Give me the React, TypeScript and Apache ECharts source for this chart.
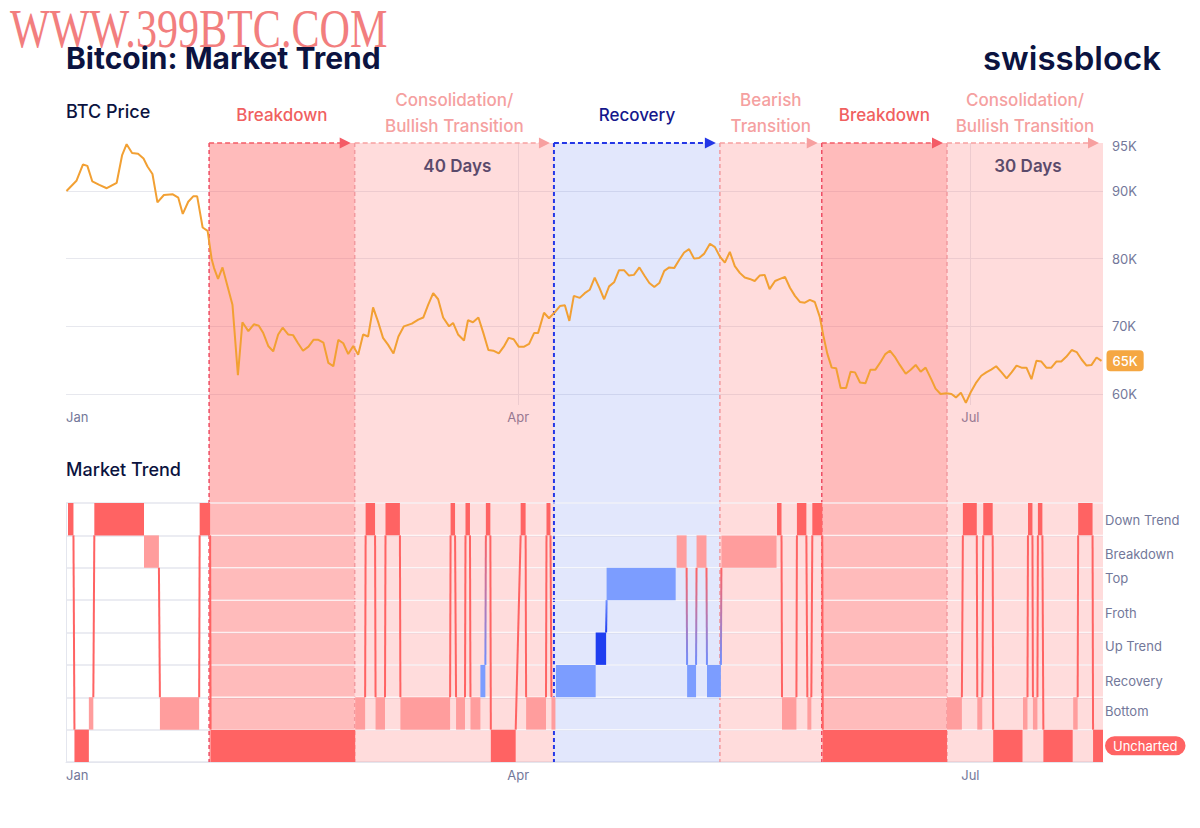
import React, { useEffect, useRef } from "react";
import * as echarts from "echarts";

// ---------- axis ticks ----------
const monthTickDays = [0, 91, 182];
const monthTickLabels = ["Jan", "Apr", "Jul"];
const priceGridDays = [91, 182];
const priceAxisK = [60, 70, 80, 90, 95];
const priceGridK = [60, 70, 80, 90];

// ---------- BTC price (day of year, price in K USD) ----------
const priceDays = [
  0.1, 2.1, 3.4, 4.3, 5.3, 6.7, 8.2, 10.2, 11.3, 12.2, 13.3, 14.5, 15.6, 16.4, 17.4, 18.4, 19.7, 21.5, 22.6, 23.5,
  24.6, 25.6, 26.4, 27.5, 28.5, 29.3, 29.8, 30.6, 31.5, 33.5, 34.6, 35.5, 36.7, 37.8, 38.8, 39.7, 40.7, 41.7, 42.7, 43.6,
  44.7, 45.7, 46.7, 47.7, 48.8, 49.8, 50.8, 51.8, 52.8, 53.8, 54.8, 55.8, 56.8, 57.8, 58.8, 59.8, 60.8, 61.8, 62.8, 63.8,
  64.8, 65.9, 66.9, 68.0, 69.6, 70.9, 71.9, 72.9, 73.9, 74.9, 75.9, 77.1, 77.9, 78.9, 80.1, 80.9, 81.9, 83.0, 84.0, 85.0,
  86.0, 87.1, 88.1, 89.1, 90.1, 91.1, 92.2, 93.2, 94.2, 95.0, 96.2, 97.2, 98.4, 99.4, 100.4, 101.3, 102.2, 103.4, 104.4, 105.4,
  106.4, 107.4, 108.3, 109.3, 110.3, 111.3, 112.3, 113.3, 114.3, 115.4, 116.4, 117.4, 118.4, 119.4, 120.4, 121.4, 122.4, 123.4, 124.4, 125.4,
  126.4, 127.4, 128.4, 129.6, 130.6, 131.6, 132.6, 133.6, 134.6, 135.6, 136.6, 137.6, 138.6, 139.6, 140.6, 141.6, 142.7, 143.7, 144.7, 145.7,
  146.7, 147.7, 148.7, 149.7, 150.7, 151.7, 152.4, 153.2, 154.1, 155.0, 155.9, 157.0, 157.9, 158.8, 159.8, 160.9, 161.9, 162.9, 164.0, 164.9,
  165.8, 166.8, 167.8, 169.0, 170.0, 171.0, 172.0, 173.0, 174.2, 175.0, 176.0, 177.2, 178.2, 179.1, 180.1, 181.1, 182.1, 183.1, 184.2, 185.2,
  186.2, 187.2, 188.3, 189.3, 190.3, 191.3, 192.3, 193.3, 194.3, 195.3, 196.3, 197.3, 198.3, 199.3, 200.3, 201.3, 202.4, 203.4, 204.4, 205.4,
  206.4, 207.4, 208.4,
];
const priceK = [
  90.0, 91.5, 93.9, 93.7, 91.4, 90.9, 90.4, 91.2, 95.3, 96.9, 95.6, 95.5, 94.8, 93.6, 92.5, 88.3, 89.4, 89.5, 89.0, 86.6,
  88.4, 89.2, 89.2, 84.6, 84.1, 80.0, 78.6, 77.0, 78.7, 73.2, 62.8, 70.6, 69.3, 70.3, 70.1, 69.0, 67.1, 66.3, 68.8, 69.8,
  68.8, 68.7, 67.5, 66.4, 67.0, 68.0, 68.0, 67.6, 64.6, 64.1, 68.0, 67.5, 65.9, 67.1, 65.8, 68.8, 68.5, 72.8, 70.7, 68.3,
  67.3, 66.0, 68.5, 70.0, 70.4, 71.0, 71.3, 73.2, 74.9, 74.0, 71.3, 70.0, 70.5, 68.8, 67.9, 70.9, 70.6, 71.3, 69.0, 66.5,
  66.4, 66.0, 67.0, 68.3, 68.1, 67.0, 67.0, 67.4, 69.0, 69.0, 72.0, 71.2, 72.1, 73.0, 73.1, 70.8, 74.5, 74.2, 74.9, 75.4,
  77.2, 75.6, 74.0, 75.9, 76.5, 78.3, 78.3, 77.5, 77.6, 78.7, 77.5, 76.4, 75.8, 76.4, 78.2, 78.7, 78.6, 79.8, 80.9, 81.4,
  80.0, 80.1, 80.7, 82.2, 81.7, 80.3, 79.4, 81.0, 78.9, 77.9, 77.2, 77.0, 76.7, 77.5, 77.6, 75.5, 76.7, 77.0, 77.3, 75.7,
  74.5, 73.6, 73.5, 73.9, 73.6, 71.4, 68.7, 66.0, 63.9, 63.8, 60.9, 60.9, 63.3, 63.2, 61.7, 61.6, 63.6, 63.6, 64.8, 65.9,
  66.4, 65.5, 64.3, 63.0, 63.6, 64.3, 63.3, 63.9, 62.1, 60.8, 60.0, 60.1, 60.0, 59.5, 60.2, 58.7, 60.3, 61.6, 62.7, 63.2,
  63.6, 64.1, 63.2, 62.3, 63.2, 64.2, 63.9, 63.9, 62.2, 64.9, 64.8, 63.9, 63.9, 64.8, 64.8, 65.5, 66.5, 66.2, 65.1, 64.2,
  64.3, 65.4, 64.9,
];

// ---------- Market trend states (bottom to top) ----------
const trendStates = ["Uncharted", "Bottom", "Recovery", "Up Trend", "Froth", "Top", "Breakdown", "Down Trend"];
const runStart = [
  0.4, 1.7, 4.6, 5.7, 15.7, 18.9, 26.9, 29.1, 58.2, 60.3, 62.3, 64.3, 67.3, 77.4, 78.5, 80.4, 81.4, 83.4, 84.5, 85.5,
  91.5, 92.6, 96.7, 97.7, 98.6, 106.6, 108.8, 122.9, 125.0, 126.9, 129.0, 131.9, 143.1, 144.1, 147.1, 149.2, 150.2, 152.3, 177.3, 180.5,
  183.4, 184.6, 186.6, 192.6, 193.6, 194.6, 195.6, 196.7, 202.7, 203.7, 206.7,
];
const runEnd = [
  1.5, 4.6, 5.5, 15.7, 18.7, 26.8, 29.0, 58.2, 60.2, 62.2, 64.2, 67.2, 77.3, 78.3, 80.3, 81.3, 83.4, 84.4, 85.4, 90.5,
  92.5, 96.6, 97.5, 98.5, 106.6, 108.7, 122.7, 124.9, 126.8, 128.9, 131.8, 143.0, 144.0, 147.0, 149.0, 150.0, 152.2, 177.3, 180.3, 183.3,
  184.4, 186.5, 192.5, 193.5, 194.5, 195.5, 196.5, 202.6, 203.6, 206.6, 208.7,
];
const runState = [
  "Down Trend", "Uncharted", "Bottom", "Down Trend", "Breakdown", "Bottom", "Down Trend", "Uncharted", "Bottom", "Down Trend",
  "Bottom", "Down Trend", "Bottom", "Down Trend", "Bottom", "Down Trend", "Bottom", "Recovery", "Down Trend", "Uncharted",
  "Down Trend", "Bottom", "Down Trend", "Bottom", "Recovery", "Up Trend", "Top", "Breakdown", "Recovery", "Breakdown",
  "Recovery", "Breakdown", "Down Trend", "Bottom", "Down Trend", "Bottom", "Down Trend", "Uncharted", "Bottom", "Down Trend",
  "Bottom", "Down Trend", "Uncharted", "Bottom", "Down Trend", "Bottom", "Down Trend", "Uncharted", "Bottom", "Down Trend",
  "Uncharted",
];

// ---------- Regimes ----------
const regimeNames = [
  "Breakdown",
  "Consolidation/\nBullish Transition",
  "Recovery",
  "Bearish\nTransition",
  "Breakdown",
  "Consolidation/\nBullish Transition",
];
const regimeKinds = ["breakdown", "transition", "recovery", "transition", "breakdown", "transition"];
const regimeStart = [28.8, 58.1, 98.2, 131.6, 152.1, 177.3];
const regimeEnd = [58.1, 98.2, 131.6, 152.1, 177.3, 208.7];
const regimeNotes = ["", "40 Days", "", "", "", "30 Days"];

// ---------- styles ----------
const X_MAX = 208.7;
const FONT = "Inter, 'Noto Sans', sans-serif";
const NAVY = "#0B1340";
const AXIS_TXT = "#73789A";
const GRID_LINE = "#E7E8EE";

const KIND_STYLE: Record<string, any> = {
  breakdown: { shade: "rgba(255,90,90,0.41)", label: "#F0605F", arrow: "#F45B66", vline: "#EE4D63", vw: 1.5 },
  transition: { shade: "rgba(255,120,120,0.26)", label: "#F5A0A0", arrow: "#F7A0A0", vline: "#F29A9F", vw: 1.5 },
  recovery: { shade: "rgba(100,130,240,0.19)", label: "#15188C", arrow: "#2437E6", vline: "#2437E6", vw: 2 },
};

const STATE_FILL: Record<string, string> = {
  "Down Trend": "#FF6363",
  Breakdown: "#FF9D9D",
  Top: "#7C9DFF",
  Froth: "#5A7CFF",
  "Up Trend": "#1F3EF0",
  Recovery: "#7C9DFF",
  Bottom: "#FF9D9D",
  Uncharted: "#FF6363",
};
const STATE_LINE: Record<string, string> = {
  "Down Trend": "#FF6363",
  Breakdown: "#FF6363",
  Top: "#6F8EFF",
  Froth: "#6F8EFF",
  "Up Trend": "#1F3EF0",
  Recovery: "#6F8EFF",
  Bottom: "#FF6363",
  Uncharted: "#FF6363",
};
// vertical fine-tuning of the state labels (px, negative = up)
const LABEL_SHIFT: Record<string, number> = {
  "Down Trend": 1,
  Breakdown: 2,
  Top: -6,
  Froth: -3,
  "Up Trend": -3,
  Recovery: 0,
  Bottom: -2,
  Uncharted: 1,
};

function buildOption() {
  const pricePairs = priceDays.map((d, i) => [d, priceK[i] * 1000]);
  const stateIdx = (s: string) => trendStates.indexOf(s);
  const runData = runStart.map((s, i) => [
    s,
    runEnd[i],
    stateIdx(runState[i]),
    i + 1 < runStart.length ? runStart[i + 1] : -1,
    i + 1 < runStart.length ? stateIdx(runState[i + 1]) : -1,
  ]);
  const regimeData = regimeStart.map((s, i) => [s, regimeEnd[i], i]);
  const currentState = runState[runState.length - 1];
  const boundaries = [1, 2, 3, 4, 5, 6, 7, 8].map((b) => [b]);

  const stateRich: any = {
    cur: {
      backgroundColor: STATE_FILL[currentState],
      color: "#fff",
      borderRadius: 10,
      padding: [3, 8, 3, 8],
      fontSize: 13,
      fontFamily: FONT,
    },
  };
  trendStates.forEach((s, i) => {
    const sh = LABEL_SHIFT[s] || 0;
    stateRich["s" + i] = {
      color: AXIS_TXT,
      fontSize: 13,
      fontFamily: FONT,
      padding: sh < 0 ? [0, 0, -2 * sh, 0] : [2 * sh, 0, 0, 0],
    };
  });

  const monthAxisLabel = {
    customValues: monthTickDays,
    formatter: (v: number) => monthTickLabels[monthTickDays.indexOf(Math.round(v))] || "",
    color: AXIS_TXT,
    fontSize: 13,
    fontFamily: FONT,
    alignMinLabel: "left",
  };

  return {
    animation: false,
    backgroundColor: "#ffffff",
    textStyle: { fontFamily: FONT },
    grid: [
      { left: 66, right: 97, top: 143, height: 262 },
      { left: 66, right: 97, top: 503, height: 259 },
      { left: 66, right: 97, top: 143, height: 619 },
    ],
    xAxis: [
      {
        type: "value",
        gridIndex: 0,
        min: 0,
        max: X_MAX,
        axisLine: { show: false },
        axisTick: { show: false, customValues: priceGridDays },
        splitLine: { show: true, lineStyle: { color: GRID_LINE, width: 1 } },
        axisLabel: { ...monthAxisLabel, margin: 5 },
      },
      {
        type: "value",
        gridIndex: 1,
        min: 0,
        max: X_MAX,
        axisLine: { show: true, lineStyle: { color: "#E4E6EE", width: 1 } },
        axisTick: { show: false, customValues: [0] },
        splitLine: { show: true, lineStyle: { color: "#E4E6EE", width: 1 } },
        axisLabel: { ...monthAxisLabel, margin: 6 },
      },
      { type: "value", gridIndex: 2, min: 0, max: X_MAX, show: false },
    ],
    yAxis: [
      {
        type: "value",
        gridIndex: 0,
        position: "right",
        min: 58380,
        max: 97080,
        axisLine: { show: false },
        axisTick: { show: false, customValues: priceGridK.map((k) => k * 1000) },
        splitLine: { show: true, lineStyle: { color: GRID_LINE, width: 1 } },
        axisLabel: {
          customValues: priceAxisK.map((k) => k * 1000),
          margin: 9,
          color: AXIS_TXT,
          fontSize: 13,
          fontFamily: FONT,
          formatter: (v: number) => {
            const t = Math.round(v / 1000) + "K";
            return v === 95000 ? "{t|" + t + "}" : t;
          },
          rich: { t: { color: AXIS_TXT, fontSize: 13, fontFamily: FONT, padding: [0, 0, 22, 0] } },
        },
      },
      {
        type: "value",
        gridIndex: 1,
        position: "right",
        min: 0,
        max: 8,
        axisLine: { show: false },
        axisTick: { show: false, customValues: [0, 1, 2, 3, 4, 5, 6, 7, 8] },
        splitLine: { show: true, lineStyle: { color: "#E4E6EE", width: 1.5 } },
        axisLabel: {
          customValues: trendStates.map((_, i) => i + 0.5),
          margin: 2,
          formatter: (v: number) => {
            const i = Math.floor(v);
            const name = trendStates[i];
            return name === currentState ? "{cur|" + name + "}" : "{s" + i + "|" + name + "}";
          },
          rich: stateRich,
        },
      },
      { type: "value", gridIndex: 2, min: 0, max: 1, show: false },
    ],
    series: [
      // regime shading, boundaries, arrows and labels
      {
        type: "custom",
        name: "regimes",
        xAxisIndex: 2,
        yAxisIndex: 2,
        z: 1,
        silent: true,
        data: regimeData,
        encode: { x: [0, 1], y: 2 },
        renderItem: (params: any, api: any) => {
          const i = api.value(2);
          const s = api.value(0);
          const e = api.value(1);
          const p0 = api.coord([s, 1]);
          const p1 = api.coord([e, 0]);
          const st = KIND_STYLE[regimeKinds[i]];
          const cx = (p0[0] + p1[0]) / 2;
          const top = p0[1];
          const twoLine = regimeNames[i].indexOf("\n") >= 0;
          const children: any[] = [
            {
              type: "rect",
              shape: { x: p0[0], y: top, width: p1[0] - p0[0], height: p1[1] - top },
              style: { fill: st.shade },
            },
            {
              type: "line",
              shape: { x1: p0[0], y1: top, x2: p0[0], y2: p1[1] },
              style: { stroke: st.vline, lineWidth: st.vw, lineDash: [4, 3] },
            },
            {
              type: "line",
              shape: { x1: p0[0], y1: top, x2: p1[0] - 12, y2: top },
              style: { stroke: st.arrow, lineWidth: regimeKinds[i] === "recovery" ? 2 : 1.6, lineDash: [5, 3] },
            },
            {
              type: "polygon",
              shape: {
                points: [
                  [p1[0] - 15, top - 5.5],
                  [p1[0] - 4, top],
                  [p1[0] - 15, top + 5.5],
                ],
              },
              style: { fill: st.arrow },
            },
            {
              type: "text",
              x: cx,
              y: twoLine ? top - 30 : top - 28,
              style: {
                text: regimeNames[i],
                fill: st.label,
                fontSize: 17,
                fontWeight: 500,
                fontFamily: FONT,
                align: "center",
                verticalAlign: "middle",
                lineHeight: 26,
              },
            },
          ];
          if (regimeNotes[i]) {
            children.push({
              type: "text",
              x: cx + 3,
              y: top + 23,
              style: {
                text: regimeNotes[i],
                fill: "#5B4A6B",
                fontSize: 17,
                fontWeight: 600,
                fontFamily: FONT,
                align: "center",
                verticalAlign: "middle",
              },
            });
          }
          return { type: "group", children };
        },
      },
      // light separators of the trend rows over the shaded span
      {
        type: "custom",
        name: "rowSeparators",
        xAxisIndex: 1,
        yAxisIndex: 1,
        z: 2,
        silent: true,
        data: boundaries,
        encode: { y: 0 },
        renderItem: (params: any, api: any) => {
          const b = api.value(0);
          const a = api.coord([regimeStart[0], b]);
          const c = api.coord([X_MAX, b]);
          return {
            type: "line",
            shape: { x1: a[0], y1: a[1], x2: c[0], y2: c[1] },
            style: { stroke: "rgba(255,255,255,0.8)", lineWidth: 1.5 },
          };
        },
      },
      // market trend blocks
      {
        type: "custom",
        name: "Market Trend",
        xAxisIndex: 1,
        yAxisIndex: 1,
        z: 3,
        silent: true,
        data: runData,
        encode: { x: [0, 1], y: 2 },
        renderItem: (params: any, api: any) => {
          const s = api.value(0);
          const e = api.value(1);
          const st = api.value(2);
          const ns = api.value(3);
          const nst = api.value(4);
          const name = trendStates[st];
          const tl = api.coord([s, st + 1]);
          const br = api.coord([e, st]);
          const children: any[] = [
            {
              type: "rect",
              shape: { x: tl[0], y: tl[1], width: Math.max(br[0] - tl[0], 1), height: br[1] - tl[1] },
              style: { fill: STATE_FILL[name] },
            },
          ];
          if (nst >= 0 && Math.abs(nst - st) > 1) {
            const up = nst > st;
            const a = api.coord([e, up ? st + 1 : st]);
            const b = api.coord([ns, up ? nst : nst + 1]);
            const nName = trendStates[nst];
            const topC = up ? STATE_LINE[nName] : STATE_LINE[name];
            const botC = up ? STATE_LINE[name] : STATE_LINE[nName];
            const stroke =
              topC === botC
                ? topC
                : new echarts.graphic.LinearGradient(0, 0, 0, 1, [
                    { offset: 0, color: topC },
                    { offset: 1, color: botC },
                  ]);
            children.push({
              type: "line",
              shape: { x1: a[0], y1: a[1], x2: b[0], y2: b[1] },
              style: { stroke, lineWidth: 2 },
            });
          }
          return { type: "group", children };
        },
      },
      // BTC price
      {
        type: "line",
        name: "BTC Price",
        xAxisIndex: 0,
        yAxisIndex: 0,
        z: 5,
        data: pricePairs,
        showSymbol: false,
        symbol: "none",
        lineStyle: { color: "#F2A033", width: 2 },
        endLabel: {
          show: true,
          distance: 5,
          formatter: (p: any) => Math.round(p.value[1] / 1000) + "K",
          backgroundColor: "#F5A742",
          color: "#ffffff",
          borderRadius: 4,
          padding: [4, 6, 4, 6],
          fontSize: 13,
          fontWeight: 500,
          fontFamily: FONT,
        },
      },
    ],
    graphic: {
      elements: [
        {
          type: "text",
          x: 10,
          y: 29,
          scaleX: 0.78,
          silent: true,
          style: {
            text: "WWW.399BTC.COM",
            fill: "#F27E7E",
            fontSize: 54,
            fontFamily: "'Liberation Serif', 'DejaVu Serif', serif",
            verticalAlign: "middle",
          },
        },
        {
          type: "text",
          x: 66,
          y: 58,
          style: {
            text: "Bitcoin: Market Trend",
            fill: NAVY,
            fontSize: 30,
            fontWeight: "bold",
            fontFamily: FONT,
            verticalAlign: "middle",
          },
        },
        {
          type: "text",
          x: 1161,
          y: 58,
          style: {
            text: "swissblock",
            fill: NAVY,
            fontSize: 33,
            fontWeight: 600,
            fontFamily: FONT,
            align: "right",
            verticalAlign: "middle",
          },
        },
        {
          type: "text",
          x: 66,
          y: 111,
          style: { text: "BTC Price", fill: NAVY, fontSize: 18, fontWeight: 500, fontFamily: FONT, verticalAlign: "middle" },
        },
        {
          type: "text",
          x: 66,
          y: 469,
          style: { text: "Market Trend", fill: NAVY, fontSize: 18, fontWeight: 500, fontFamily: FONT, verticalAlign: "middle" },
        },
      ],
    },
  };
}

export default function App() {
  const ref = useRef<HTMLDivElement>(null);
  useEffect(() => {
    if (!ref.current) return;
    const chart = echarts.init(ref.current, undefined, { renderer: "svg" });
    chart.setOption(buildOption() as any);
    return () => chart.dispose();
  }, []);
  return (
    <div
      ref={ref}
      style={{ position: "fixed", left: 0, top: 0, width: 1200, height: 828, background: "#ffffff" }}
    />
  );
}
